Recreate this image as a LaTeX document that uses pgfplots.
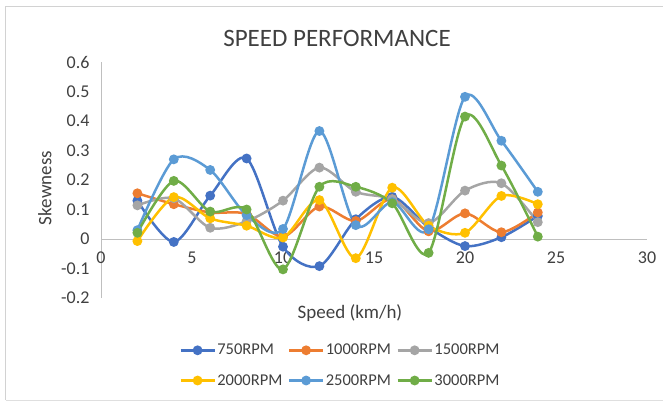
\documentclass[border=0pt]{standalone}
\usepackage{fontspec}
\setmainfont{Carlito}
\usepackage{pgfplots}
\pgfplotsset{compat=1.18}
\definecolor{cA}{HTML}{4472C4}
\definecolor{cB}{HTML}{ED7D31}
\definecolor{cC}{HTML}{A5A5A5}
\definecolor{cD}{HTML}{FFC000}
\definecolor{cE}{HTML}{5B9BD5}
\definecolor{cF}{HTML}{70AD47}
\definecolor{txt}{HTML}{404040}
\definecolor{axl}{HTML}{BFBFBF}
\begin{document}
\begin{tikzpicture}[x=1pt,y=1pt]
\useasboundingbox (0,0) rectangle (663,402);
\draw[axl!70,line width=1pt] (5.5,2) -- (5.5,395.5) -- (663,395.5);
\draw[axl!50,line width=0.8pt] (5.5,2) -- (663,2);
\node[text=txt,font=\fontsize{25}{30}\selectfont] at (337,364) {SPEED PERFORMANCE};
\begin{axis}[
  scale only axis, width=546pt, height=236pt,
  at={(101pt,104pt)}, anchor=south west,
  xmin=0, xmax=30, ymin=-0.2, ymax=0.6,
  axis x line=middle, axis y line=left,
  axis line style={-, axl, line width=0.9pt},
  hide obscured x ticks=false, hide obscured y ticks=false,
  xtick={0,5,10,15,20,25,30},
  ytick={-0.2,-0.1,0,0.1,0.2,0.3,0.4,0.5,0.6},
  major tick length=0pt,
  /pgf/number format/assume math mode=true,
  yticklabel style={/pgf/number format/fixed,/pgf/number format/precision=1, font=\fontsize{18}{20}\selectfont, text=txt, xshift=-8pt},
  xticklabel style={font=\fontsize{18}{20}\selectfont, text=txt, yshift=-9pt},
  xlabel={Speed (km/h)}, ylabel={Skewness},
  xlabel style={at={(axis description cs:0.456,-0.064)}, anchor=center, font=\fontsize{19}{22}\selectfont, text=txt},
  ylabel style={at={(axis description cs:-0.103,0.466)}, anchor=center, rotate=0, font=\fontsize{19}{22}\selectfont, text=txt},
  clip=false,
  every axis plot/.append style={smooth, tension=0.5, line width=2.5pt, mark=*, mark size=3.6pt},
  legend columns=3,
  legend style={draw=none, fill=none, at={(axis description cs:0.438,-0.178)}, anchor=north,
    font=\fontsize{16.5}{18}\selectfont, text=txt,
    nodes={inner xsep=1.5pt},
    /tikz/every odd column/.append style={column sep=0pt},
    /tikz/every even column/.append style={column sep=4pt},
    row sep=14pt},
  legend cell align=left,
  legend image code/.code={\draw[mark repeat=2,mark phase=2,#1] plot coordinates {(0pt,0pt) (17pt,0pt) (34pt,0pt)};},
]
\addplot[cA, mark options={fill=cA}] coordinates {(2,0.13) (4,-0.01) (6,0.147) (8,0.273) (10,-0.026) (12,-0.092) (14,0.067) (16,0.143) (18,0.04) (20,-0.024) (22,0.006) (24,0.078)};
\addlegendentry{750RPM}
\addplot[cB, mark options={fill=cB}] coordinates {(2,0.155) (4,0.118) (6,0.09) (8,0.085) (10,0.008) (12,0.11) (14,0.061) (16,0.135) (18,0.026) (20,0.087) (22,0.023) (24,0.09)};
\addlegendentry{1000RPM}
\addplot[cC, mark options={fill=cC}] coordinates {(2,0.114) (4,0.138) (6,0.038) (8,0.06) (10,0.13) (12,0.242) (14,0.16) (16,0.135) (18,0.054) (20,0.164) (22,0.189) (24,0.057)};
\addlegendentry{1500RPM}
\addplot[cD, mark options={fill=cD}] coordinates {(2,-0.007) (4,0.142) (6,0.07) (8,0.045) (10,0.005) (12,0.132) (14,-0.065) (16,0.174) (18,0.045) (20,0.021) (22,0.146) (24,0.118)};
\addlegendentry{2000RPM}
\addplot[cE, mark options={fill=cE}] coordinates {(2,0.03) (4,0.27) (6,0.234) (8,0.081) (10,0.034) (12,0.366) (14,0.047) (16,0.125) (18,0.033) (20,0.482) (22,0.333) (24,0.16)};
\addlegendentry{2500RPM}
\addplot[cF, mark options={fill=cF}] coordinates {(2,0.021) (4,0.197) (6,0.093) (8,0.1) (10,-0.103) (12,0.177) (14,0.177) (16,0.121) (18,-0.047) (20,0.415) (22,0.249) (24,0.008)};
\addlegendentry{3000RPM}
\end{axis}
\end{tikzpicture}
\end{document}
